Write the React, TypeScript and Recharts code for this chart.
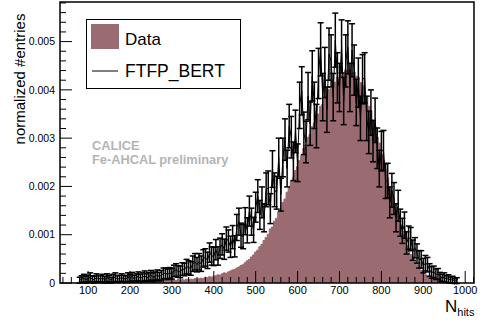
import React from 'react';
import { ComposedChart, Area, Line, XAxis, YAxis, ErrorBar, ReferenceArea, Legend } from 'recharts';

const FONT = '"Liberation Sans", Arial, Helvetica, sans-serif';
const FILL = '#9a6b70';

// N_hits bin centres: start + index * step
const nHitsStart = 80;
const nHitsStep = 5;
const unit = 1e-5; // values below are in units of 1e-5 (normalized #entries)

// Data histogram (filled)
const dataHist = [
  2, 3, 2, 3, 4, 2, 3, 4, 3, 2,
  4, 3, 3, 4, 2, 3, 4, 3, 4, 3,
  5, 4, 3, 4, 5, 3, 4, 5, 4, 3,
  5, 4, 5, 4, 6, 4, 5, 6, 5, 4,
  6, 5, 6, 5, 7, 6, 5, 7, 6, 7,
  6, 8, 7, 8, 7, 9, 8, 9, 10, 9,
  12, 11, 13, 12, 14, 15, 17, 16, 19, 21,
  20, 23, 25, 27, 28, 31, 33, 36, 38, 42,
  46, 49, 54, 58, 64, 68, 75, 80, 88, 94,
  101, 112, 116, 128, 134, 147, 153, 167, 174, 188,
  197, 210, 218, 233, 241, 254, 264, 279, 286, 302,
  308, 324, 331, 345, 350, 366, 370, 383, 388, 400,
  403, 414, 416, 426, 426, 435, 434, 440, 440, 442,
  435, 437, 428, 426, 415, 409, 393, 386, 366, 357,
  336, 324, 302, 290, 267, 254, 231, 218, 195, 183,
  162, 151, 130, 120, 102, 94, 78, 72, 59, 55,
  46, 38, 32, 26, 21, 17, 14, 11, 9, 7,
  5, 4, 3, 3, 2, 2, 1, 1, 1, 0,
  0,
];

// FTFP_BERT simulation points
const mcHist = [
  6, 8, 10, 7, 9, 12, 8, 7, 11, 9,
  8, 10, 7, 11, 9, 6, 10, 12, 8, 9,
  11, 9, 8, 12, 10, 13, 9, 11, 14, 10,
  12, 15, 11, 13, 16, 12, 14, 17, 13, 16,
  20, 20, 18, 21, 19, 25, 27, 24, 23, 29,
  28, 34, 32, 30, 40, 44, 38, 44, 40, 51,
  53, 47, 63, 56, 55, 69, 56, 72, 80, 70,
  92, 87, 75, 95, 76, 115, 127, 99, 96, 128,
  109, 149, 127, 110, 157, 180, 141, 167, 135, 193,
  197, 154, 236, 193, 187, 260, 183, 260, 297, 237,
  325, 302, 252, 314, 249, 368, 398, 310, 292, 387,
  330, 429, 368, 325, 434, 484, 385, 436, 359, 474,
  460, 385, 503, 425, 405, 490, 377, 460, 488, 405,
  482, 441, 374, 415, 341, 422, 425, 341, 312, 353,
  294, 337, 279, 237, 273, 275, 211, 212, 167, 192,
  175, 135, 160, 125, 108, 120, 83, 94, 91, 68,
  73, 61, 49, 49, 36, 41, 38, 27, 22, 23,
  18, 19, 13, 10, 12, 8, 9, 6, 7, 4,
  5,
];

const mcErr = [
  6, 7, 8, 7, 7, 9, 7, 7, 8, 7,
  7, 8, 7, 8, 7, 6, 8, 9, 7, 7,
  8, 7, 7, 9, 8, 9, 7, 8, 9, 8,
  9, 10, 8, 9, 10, 9, 9, 10, 9, 10,
  11, 11, 11, 11, 11, 12, 13, 12, 12, 13,
  13, 15, 14, 14, 16, 17, 15, 17, 16, 18,
  18, 17, 20, 19, 19, 21, 19, 21, 22, 21,
  24, 23, 22, 24, 22, 27, 28, 25, 25, 28,
  26, 31, 28, 26, 31, 34, 30, 32, 29, 35,
  35, 31, 38, 35, 34, 40, 34, 40, 43, 38,
  45, 43, 40, 44, 39, 48, 50, 44, 43, 49,
  45, 52, 48, 45, 52, 55, 49, 52, 47, 54,
  54, 49, 56, 52, 50, 55, 49, 54, 55, 50,
  55, 52, 48, 51, 46, 51, 52, 46, 44, 47,
  43, 46, 42, 38, 41, 41, 36, 36, 32, 35,
  33, 29, 32, 28, 26, 27, 23, 24, 24, 21,
  21, 20, 18, 18, 15, 16, 15, 13, 12, 12,
  11, 11, 9, 8, 9, 7, 8, 6, 7, 5,
  6,
];

const xTickLabels = ['100', '200', '300', '400', '500', '600', '700', '800', '900', '1000'];
const yTickLabels = ['0', '0.001', '0.002', '0.003', '0.004', '0.005'];

const X_DOMAIN: [number, number] = [33, 1021];
const Y_DOMAIN: [number, number] = [0, 0.00582];

const rows = dataHist.map((d, i) => ({
  nhits: nHitsStart + i * nHitsStep,
  data: d * unit,
  mc: mcHist[i] * unit,
  err: mcErr[i] * unit,
}));

const xTicks: number[] = [];
for (let v = 40; v <= 1020; v += 20) xTicks.push(v);
const yTicks: number[] = [];
for (let k = 0; k <= 29; k++) yTicks.push(k * 0.0002);

const XTick = (props: any) => {
  const { x, y, payload } = props;
  const v = payload.value;
  const major = v % 100 === 0;
  return (
    <g>
      <line x1={x} x2={x} y1={y} y2={y - (major ? 12 : 6)} stroke="#000" strokeWidth={1} />
      {major && (
        <text x={x} y={y + 10.5} textAnchor="middle" fontFamily={FONT} fontSize={11} fill="#000">
          {xTickLabels[v / 100 - 1]}
        </text>
      )}
    </g>
  );
};

const YTick = (props: any) => {
  const { x, y, index } = props;
  const major = index % 5 === 0;
  return (
    <g>
      <line x1={x} x2={x + (major ? 12 : 6)} y1={y} y2={y} stroke="#000" strokeWidth={1} />
      {major && (
        <text x={x - 5} y={y + 3.7} textAnchor="end" fontFamily={FONT} fontSize={10.5} fill="#000">
          {yTickLabels[index / 5]}
        </text>
      )}
    </g>
  );
};

const LegendBox = () => (
  <svg width={155} height={70} style={{ display: 'block' }}>
    <rect x={0.5} y={0.5} width={154} height={69} fill="#fff" stroke="#000" strokeWidth={1} />
    <rect x={5} y={5} width={28} height={25} fill={FILL} />
    <text x={39} y={25.5} fontFamily={FONT} fontSize={17} fill="#000">Data</text>
    <line x1={6} x2={32} y1={52} y2={52} stroke="#000" strokeWidth={1} />
    <text x={39} y={57.5} fontFamily={FONT} fontSize={17.5} fill="#000">FTFP_BERT</text>
  </svg>
);

export default function App() {
  return (
    <div style={{ position: 'absolute', left: 0, top: 0, width: 483, height: 322, background: '#fff' }}>
      <ComposedChart
        width={483}
        height={322}
        data={rows}
        margin={{ top: 2, right: 9, bottom: 0, left: 0 }}
      >
        <Area
          type="step"
          dataKey="data"
          name="Data"
          fill={FILL}
          fillOpacity={1}
          stroke={FILL}
          strokeWidth={1}
          dot={false}
          activeDot={false}
          isAnimationActive={false}
        />
        <Line
          type="linear"
          dataKey="mc"
          name="FTFP_BERT"
          stroke="#000"
          strokeWidth={1}
          dot={false}
          activeDot={false}
          isAnimationActive={false}
        >
          <ErrorBar dataKey="err" width={3} stroke="#000" strokeWidth={1.5} direction="y" isAnimationActive={false} />
        </Line>
        <ReferenceArea
          x1={X_DOMAIN[0]}
          x2={X_DOMAIN[1]}
          y1={Y_DOMAIN[0]}
          y2={Y_DOMAIN[1]}
          fill="none"
          stroke="#000"
          strokeWidth={1.5}
          ifOverflow="visible"
        />
        <XAxis
          dataKey="nhits"
          type="number"
          domain={X_DOMAIN}
          allowDataOverflow
          ticks={xTicks}
          interval={0}
          tick={<XTick />}
          tickLine={false}
          axisLine={false}
          tickSize={0}
          tickMargin={0}
          height={39}
          label={() => (
            <text x={445} y={311.7} fontFamily={FONT} fill="#000">
              <tspan fontSize={17}>N</tspan>
              <tspan fontSize={11} dy={4.3}>hits</tspan>
            </text>
          )}
        />
        <YAxis
          type="number"
          domain={Y_DOMAIN}
          allowDataOverflow
          ticks={yTicks}
          interval={0}
          tick={<YTick />}
          tickLine={false}
          axisLine={false}
          tickSize={0}
          tickMargin={0}
          width={60}
          label={() => (
            <text
              x={25}
              y={79}
              transform="rotate(-90 25 79)"
              textAnchor="middle"
              fontFamily={FONT}
              fontSize={15}
              fill="#000"
            >
              normalized #entries
            </text>
          )}
        />
        <Legend
          layout="horizontal"
          verticalAlign="middle"
          align="center"
          wrapperStyle={{ left: 86, top: 19, width: 155, height: 70 }}
          content={() => <LegendBox />}
        />
      </ComposedChart>
      <svg
        width={483}
        height={322}
        style={{ position: 'absolute', left: 0, top: 0, pointerEvents: 'none' }}
      >
        <text x={92} y={149.5} fontFamily={FONT} fontSize={12.8} fontWeight="bold" fill="#b4b4b4">CALICE</text>
        <text x={92} y={164} fontFamily={FONT} fontSize={12.8} fontWeight="bold" fill="#b4b4b4">Fe-AHCAL preliminary</text>
      </svg>
    </div>
  );
}
